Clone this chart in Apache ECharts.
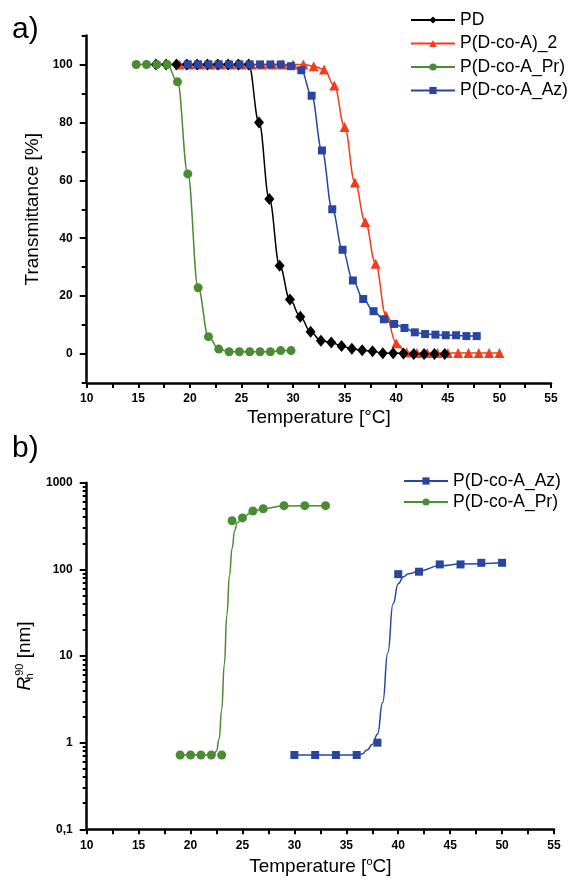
<!DOCTYPE html>
<html>
<head>
<meta charset="utf-8">
<script src="https://cdn.jsdelivr.net/npm/echarts@6/dist/echarts.min.js"></script>
<style>
  html, body { margin: 0; padding: 0; background: #fff; }
  #main { width: 574px; height: 882px; }
</style>
</head>
<body>
<div id="main"></div>
<script>
// ---- panel a) transmittance ----
var pdT = [16.7, 17.7, 18.7, 19.7, 20.7, 21.7, 22.7, 23.7, 24.7, 25.7, 26.7, 27.7, 28.7, 29.7, 30.7,
  31.7, 32.7, 33.7, 34.7, 35.7, 36.7, 37.7, 38.7, 39.7, 40.7, 41.7, 42.7, 43.7, 44.7];
var pdY = [100, 100, 100, 100, 100, 100, 100, 100, 100, 100, 80, 53.5, 30.5, 18.8, 12.9,
  7.7, 4.6, 4.0, 2.8, 1.8, 1.3, 1.0, 0.3, 0.3, 0.2, 0, 0, 0, 0];

var coT = [19, 20, 21, 22, 23, 24, 25, 26, 27, 28, 29, 30, 31, 32, 33, 34,
  35, 36, 37, 38, 39, 40, 41, 42, 43, 44, 45, 46, 47, 48, 49, 50];
var coY = [100, 100, 100, 100, 100, 100, 100, 100, 100, 100, 100, 100, 100, 99.4, 98.3, 92.7,
  78.4, 59.2, 45.6, 31.2, 13.3, 3.7, 0.6, 0.4, 0.4, 0.4, 0.4, 0.4, 0.4, 0.4, 0.4, 0.4];

var prT = [14.8, 15.8, 16.8, 17.8, 18.8, 19.8, 20.8, 21.8, 22.8, 23.8, 24.8, 25.8, 26.8, 27.8, 28.8, 29.8];
var prY = [100, 100, 100, 100, 94, 62.2, 22.9, 6, 1.7, 0.8, 0.8, 0.8, 0.8, 0.8, 1.2, 1.2];

var azT = [19.8, 20.8, 21.8, 22.8, 23.8, 24.8, 25.8, 26.8, 27.8, 28.8, 29.8, 30.8, 31.8, 32.8, 33.8,
  34.8, 35.8, 36.8, 37.8, 38.8, 39.8, 40.8, 41.8, 42.8, 43.8, 44.8, 45.8, 46.8, 47.8];
var azY = [100, 100, 100, 100, 100, 100, 100, 100, 100, 100, 99.4, 98, 89.2, 70.3, 50,
  36, 25.4, 19, 14.8, 12, 10.4, 9, 7.5, 6.9, 6.7, 6.5, 6.5, 6.2, 6.2];

// ---- panel b) hydrodynamic radius ----
var rhAzT = [30, 32, 34, 36, 38, 40, 42, 44, 46, 48, 50];
var rhAz = [0.72, 0.72, 0.72, 0.72, 1.0, 88, 94, 114, 114, 119, 119];
var rhPrT = [19, 20, 21, 22, 23, 24, 25, 26, 27, 29, 31, 33];
var rhPr = [0.72, 0.72, 0.72, 0.72, 0.72, 364, 392, 471, 501, 543, 543, 543];

// fitted curves
var fitAzT = [30, 36, 36.5, 37, 37.5, 38, 38.5, 39, 39.5, 40, 40.5, 41, 42, 44, 46, 50];
var fitAz = [0.72, 0.72, 0.74, 0.82, 0.95, 1.25, 2.9, 11, 40, 68, 82, 89, 96, 110, 115, 119];
var fitPrT = [19, 22.25, 22.5, 22.75, 23, 23.25, 23.5, 23.75, 24, 24.25, 24.5, 25, 26, 27, 29, 33];
var fitPr = [0.72, 0.72, 0.8, 1.1, 2.4, 8, 30, 85, 175, 280, 345, 400, 463, 501, 540, 543];

// ticks
var transLabels = [0, 20, 40, 60, 80, 100];
var transMinor = [-10, 10, 30, 50, 70, 90, 110];
var rhLabels = [0.1, 1, 10, 100, 1000];
var rhMinor = [];
[0.1, 1, 10, 100].forEach(function (d) {
  for (var k = 2; k <= 9; k++) rhMinor.push(+(d * k).toPrecision(3));
});

var FONT = '"Liberation Sans", Arial, sans-serif';
var BLACK = '#000000', RED = '#f23d1c', GREEN = '#4b8b34', BLUE = '#2a45a0';

function pairs(xs, ys) {
  return xs.map(function (x, i) { return [x, ys[i]]; });
}

function xAxis(grid, name, gap) {
  return {
    type: 'value', gridIndex: grid, min: 10, max: 55, interval: 5,
    axisLine: { show: true, onZero: false, lineStyle: { color: BLACK, width: 2.5 } },
    axisTick: { show: true, length: 5, lineStyle: { color: BLACK, width: 2 } },
    minorTick: { show: true, splitNumber: 2, length: 5, lineStyle: { color: BLACK, width: 2 } },
    splitLine: { show: false },
    axisLabel: { color: BLACK, fontWeight: 'bold', fontSize: 12, fontFamily: FONT, margin: 10,
      showMinLabel: true, showMaxLabel: true },
    name: name, nameLocation: 'middle', nameGap: gap,
    nameTextStyle: { color: BLACK, fontSize: 19, fontFamily: FONT,
      rich: { sup: { fontSize: 11, fontFamily: FONT, color: BLACK, padding: [0, 0, 9, 0] } } }
  };
}

var option = {
  animation: false,
  backgroundColor: '#ffffff',
  graphic: [
    { type: 'text', left: 12, top: 15, style: { text: 'a)', fontSize: 30, fontFamily: FONT, fill: BLACK } },
    { type: 'text', left: 12, top: 434, style: { text: 'b)', fontSize: 30, fontFamily: FONT, fill: BLACK } }
  ],
  grid: [
    { left: 86.7, right: 23, top: 35.5, height: 347.5 },
    { left: 86.7, right: 20, top: 482.7, height: 346.6 }
  ],
  legend: [
    {
      data: ['PD', 'P(D-co-A)_2', 'P(D-co-A_Pr)', 'P(D-co-A_Az)'],
      orient: 'vertical', left: 410, top: 11, padding: 0, itemWidth: 44, itemHeight: 9, itemGap: 5.5,
      textStyle: { fontSize: 17.5, fontFamily: FONT, color: BLACK }
    },
    {
      data: ['P(D-co-A_Az)', 'P(D-co-A_Pr)'],
      orient: 'vertical', left: 403, top: 472, padding: 0, itemWidth: 44, itemHeight: 9, itemGap: 3,
      textStyle: { fontSize: 17.5, fontFamily: FONT, color: BLACK }
    }
  ],
  xAxis: [
    xAxis(0, 'Temperature [°C]', 25),
    xAxis(1, 'Temperature [{sup|o}C]', 27)
  ],
  yAxis: [
    {
      type: 'value', gridIndex: 0, position: 'left', min: -10, max: 110,
      axisLine: { show: true, onZero: false, lineStyle: { color: BLACK, width: 2.5 } },
      axisTick: { show: true, length: 7, customValues: transLabels, lineStyle: { color: BLACK, width: 2 } },
      axisLabel: { color: BLACK, fontWeight: 'bold', fontSize: 12, fontFamily: FONT, margin: 14,
        customValues: transLabels },
      splitLine: { show: false },
      name: 'Transmittance [%]', nameLocation: 'middle', nameGap: 38,
      nameTextStyle: { color: BLACK, fontSize: 19, fontFamily: FONT }
    },
    {
      type: 'value', gridIndex: 0, position: 'left', offset: 0, min: -10, max: 110,
      axisLine: { show: false },
      axisTick: { show: true, length: 5, customValues: transMinor, lineStyle: { color: BLACK, width: 2 } },
      axisLabel: { show: false },
      splitLine: { show: false }
    },
    {
      type: 'log', logBase: 10, gridIndex: 1, position: 'left', min: 0.1, max: 1000,
      axisLine: { show: true, onZero: false, lineStyle: { color: BLACK, width: 2.5 } },
      axisTick: { show: true, length: 7, customValues: rhLabels, lineStyle: { color: BLACK, width: 2 } },
      axisLabel: { color: BLACK, fontWeight: 'bold', fontSize: 12, fontFamily: FONT, margin: 14,
        customValues: rhLabels,
        formatter: function (v) { return v < 0.5 ? '0,1' : String(Math.round(v)); } },
      splitLine: { show: false },
      name: '{it|R}{sub|h}{sup|90} [nm]', nameLocation: 'middle', nameGap: 38,
      nameTextStyle: {
        color: BLACK, fontSize: 19, fontFamily: FONT,
        rich: {
          it: { fontSize: 19, fontStyle: 'italic', fontFamily: FONT, color: BLACK },
          sub: { fontSize: 11, fontFamily: FONT, color: BLACK, width: 1, padding: [10, 0, 0, 0] },
          sup: { fontSize: 11, fontFamily: FONT, color: BLACK, padding: [0, 0, 9, 0] }
        }
      }
    },
    {
      type: 'log', logBase: 10, gridIndex: 1, position: 'left', offset: 0, min: 0.1, max: 1000,
      axisLine: { show: false },
      axisTick: { show: true, length: 4, customValues: rhMinor, lineStyle: { color: BLACK, width: 2 } },
      axisLabel: { show: false },
      splitLine: { show: false }
    }
  ],
  series: [
    {
      name: 'P(D-co-A)_2', type: 'line', xAxisIndex: 0, yAxisIndex: 0,
      data: pairs(coT, coY), smooth: 0.4, smoothMonotone: 'x',
      symbol: 'triangle', symbolSize: 10,
      itemStyle: { color: RED }, lineStyle: { color: RED, width: 1.5 }
    },
    {
      name: 'PD', type: 'line', xAxisIndex: 0, yAxisIndex: 0,
      data: pairs(pdT, pdY), smooth: 0.4, smoothMonotone: 'x',
      symbol: 'diamond', symbolSize: [10, 12],
      itemStyle: { color: BLACK }, lineStyle: { color: BLACK, width: 1.5 }
    },
    {
      name: 'P(D-co-A_Pr)', type: 'line', xAxisIndex: 0, yAxisIndex: 0,
      data: pairs(prT, prY), smooth: 0.4, smoothMonotone: 'x',
      symbol: 'circle', symbolSize: 9,
      itemStyle: { color: GREEN }, lineStyle: { color: GREEN, width: 1.5 }
    },
    {
      name: 'P(D-co-A_Az)', type: 'line', xAxisIndex: 0, yAxisIndex: 0,
      data: pairs(azT, azY), smooth: 0.4, smoothMonotone: 'x',
      symbol: 'rect', symbolSize: 8,
      itemStyle: { color: BLUE }, lineStyle: { color: BLUE, width: 1.5 }
    },
    {
      name: 'Az fit', type: 'line', xAxisIndex: 1, yAxisIndex: 2,
      data: pairs(fitAzT, fitAz), smooth: 0.5, smoothMonotone: 'x', symbol: 'none',
      lineStyle: { color: BLUE, width: 1.5 }
    },
    {
      name: 'Pr fit', type: 'line', xAxisIndex: 1, yAxisIndex: 2,
      data: pairs(fitPrT, fitPr), smooth: 0.5, smoothMonotone: 'x', symbol: 'none',
      lineStyle: { color: GREEN, width: 1.5 }
    },
    {
      name: 'P(D-co-A_Az)', type: 'scatter', xAxisIndex: 1, yAxisIndex: 2,
      data: pairs(rhAzT, rhAz), symbol: 'rect', symbolSize: 8,
      itemStyle: { color: BLUE, opacity: 1 }
    },
    {
      name: 'P(D-co-A_Pr)', type: 'scatter', xAxisIndex: 1, yAxisIndex: 2,
      data: pairs(rhPrT, rhPr), symbol: 'circle', symbolSize: 9,
      itemStyle: { color: GREEN, opacity: 1 }
    }
  ]
};

var chart = echarts.init(document.getElementById('main'), null, { renderer: 'canvas' });
chart.setOption(option);
</script>
</body>
</html>
